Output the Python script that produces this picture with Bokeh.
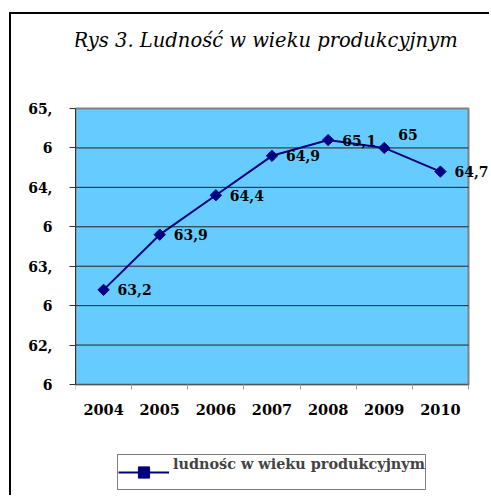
import math
from bokeh.plotting import figure
from bokeh.models import (ColumnDataSource, FixedTicker, LabelSet, Label, Legend, LegendItem, Range1d)
from bokeh.core.properties import value
from bokeh.embed import file_html
from bokeh.resources import INLINE

years = ["2004", "2005", "2006", "2007", "2008", "2009", "2010"]
values = [63.2, 63.9, 64.4, 64.9, 65.1, 65.0, 64.7]
value_labels = ["63,2", "63,9", "64,4", "64,9", "65,1", "65", "64,7"]
y_ticks = [62.0, 62.5, 63.0, 63.5, 64.0, 64.5, 65.0, 65.5]
y_tick_labels = ["6", "62,", "6", "63,", "6", "64,", "6", "65,"]
series_name = "ludnośc w wieku produkcyjnym"
title_text = "Rys 3. Ludność w wieku produkcyjnym"

FONT = "DejaVu Serif"

# layout (pixels, canvas coordinates)
W, H = 480, 483
LEFT_PANEL = 64
PLOT_TOP, PLOT_BOTTOM, PLOT_RIGHT = 94, 370, 457

X_MIN, X_MAX = 0, len(years)
Y_MIN, Y_MAX = y_ticks[0], y_ticks[-1]
px_x = (PLOT_RIGHT - LEFT_PANEL) / (X_MAX - X_MIN)
px_y = (PLOT_BOTTOM - PLOT_TOP) / (Y_MAX - Y_MIN)
x_end = X_MAX + (W - PLOT_RIGHT) / px_x
y_end = Y_MAX + PLOT_TOP / px_y
y_start = Y_MIN - (H - PLOT_BOTTOM) / px_y

xs = [i + 0.5 for i in range(len(years))]
label_dy = [0, 0, 0, 0, 0, 13, 0]
src = ColumnDataSource(dict(x=xs, y=values, lab=value_labels, dy=label_dy))

p = figure(width=W, height=H, output_backend="svg", toolbar_location=None,
           x_range=Range1d(X_MIN, x_end), y_range=Range1d(y_start, y_end),
           min_border_left=LEFT_PANEL, min_border_right=0, min_border_top=0, min_border_bottom=0)
p.styles = {"border-top": "2px solid black", "border-left": "2px solid black",
            "margin-left": "9px", "margin-top": "12px"}
p.background_fill_color = "white"
p.border_fill_color = "white"
p.outline_line_color = None

# plot area
p.quad(left=X_MIN, right=X_MAX, bottom=Y_MIN, top=Y_MAX, fill_color="#66CCFF",
       line_color="#808080", line_width=2)
p.segment(x0=[X_MIN] * (len(y_ticks) - 1), x1=[X_MAX] * (len(y_ticks) - 1),
          y0=y_ticks[:-1], y1=y_ticks[:-1], line_color="#222222", line_width=1)

p.xgrid.grid_line_color = None
p.ygrid.grid_line_color = None

p.yaxis.ticker = FixedTicker(ticks=y_ticks)
p.yaxis.bounds = (Y_MIN, Y_MAX)
p.yaxis.major_label_overrides = {t: l for t, l in zip(y_ticks, y_tick_labels)}
p.yaxis.minor_tick_line_color = None
p.yaxis.major_tick_out = 6
p.yaxis.major_tick_in = 0
p.yaxis.major_tick_line_color = "#333333"
p.yaxis.axis_line_color = "#333333"
p.yaxis.axis_line_width = 1
p.yaxis.major_label_standoff = 17
p.yaxis.major_label_text_font = FONT
p.yaxis.major_label_text_font_style = "bold"
p.yaxis.major_label_text_font_size = "14px"
p.yaxis.major_label_text_color = "black"

p.xaxis.fixed_location = Y_MIN
p.xaxis.bounds = (X_MIN, X_MAX)
p.xaxis.ticker = FixedTicker(ticks=xs, minor_ticks=list(range(len(years) + 1)))
p.xaxis.major_label_overrides = {x: y for x, y in zip(xs, years)}
p.xaxis.major_tick_line_color = None
p.xaxis.major_tick_out = 5
p.xaxis.minor_tick_out = 5
p.xaxis.minor_tick_in = 0
p.xaxis.minor_tick_line_color = "#999999"
p.xaxis.axis_line_color = "#555555"
p.xaxis.major_label_standoff = 14
p.xaxis.major_label_text_font = FONT
p.xaxis.major_label_text_font_style = "bold"
p.xaxis.major_label_text_font_size = "14.5px"
p.xaxis.major_label_text_color = "black"

r_line = p.line("x", "y", source=src, line_color="#000080", line_width=2)
r_pts = p.scatter("x", "y", source=src, marker="square", size=8, angle=math.pi / 4,
                  fill_color="#000080", line_color="#000080")

labels = LabelSet(x="x", y="y", text="lab", source=src, x_offset=14, y_offset="dy",
                  text_font=value(FONT), text_font_style=value("bold"),
                  text_font_size=value("14px"),
                  text_color="black", text_baseline="middle")
p.add_layout(labels)

p.add_layout(Label(x=-2, y=H - 26, x_units="screen", y_units="screen", text=title_text,
                   text_font=FONT, text_font_style="italic", text_font_size="19.5px",
                   text_align="left", text_baseline="middle", text_color="black"))

legend = Legend(items=[LegendItem(label=series_name + "\n ", renderers=[r_line, r_pts])],
                location=(42, 7), orientation="vertical",
                label_text_font=FONT, label_text_font_style="bold", label_text_font_size="14.4px",
                label_text_line_height=1.0, glyph_height=28, glyph_width=51,
                border_line_color="black", border_line_width=1,
                background_fill_color="white", background_fill_alpha=1,
                padding=0, spacing=0, label_standoff=4, margin=0)
p.add_layout(legend)

open("out.html", "w").write(file_html(p, INLINE))
